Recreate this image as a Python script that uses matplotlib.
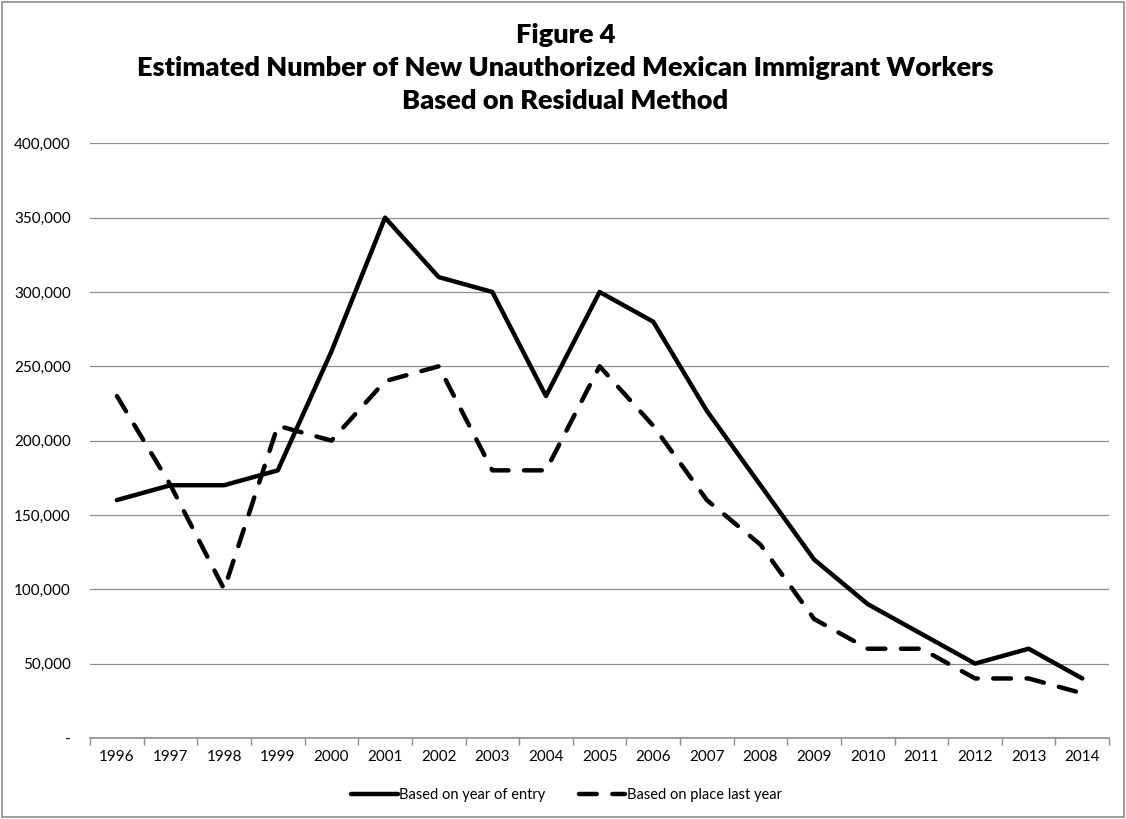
import matplotlib
matplotlib.use("Agg")
import matplotlib.pyplot as plt
from matplotlib.patches import Rectangle
from matplotlib.ticker import FuncFormatter, FixedLocator

plt.rcParams['font.family'] = ['Lato', 'DejaVu Sans']

years = ['1996', '1997', '1998', '1999', '2000', '2001', '2002', '2003', '2004', '2005',
         '2006', '2007', '2008', '2009', '2010', '2011', '2012', '2013', '2014']
year_of_entry = [160000, 170000, 170000, 180000, 260000, 350000, 310000, 300000, 230000, 300000,
                 280000, 220000, 170000, 120000, 90000, 70000, 50000, 60000, 40000]
place_last_year = [230000, 170000, 100000, 210000, 200000, 240000, 250000, 180000, 180000, 250000,
                   210000, 160000, 130000, 80000, 60000, 60000, 40000, 40000, 30000]

fig = plt.figure(figsize=(11.26, 8.19), dpi=100)
ax = fig.add_axes([0.080, 0.099, 0.905, 0.726])

x = range(len(years))
ax.plot(x, year_of_entry, color='black', lw=3.2, solid_capstyle='round',
        solid_joinstyle='round', label='Based on year of entry')
ax.plot(x, place_last_year, color='black', lw=3.2, dashes=(4, 3.5),
        dash_capstyle='round', label='Based on place last year')

ax.set_xlim(-0.5, len(years) - 0.5)
ax.set_ylim(0, 400000)
ax.set_yticks(range(0, 400001, 50000))
ax.yaxis.set_major_formatter(FuncFormatter(lambda v, p: '-' if v == 0 else f'{int(v):,}'))
ax.set_xticks(list(x))
ax.set_xticklabels(years)
ax.xaxis.set_minor_locator(FixedLocator([i - 0.5 for i in range(len(years) + 1)]))

ax.grid(axis='y', color='#8c8c8c', lw=0.9)
ax.set_axisbelow(True)
for s in ['top', 'right', 'left']:
    ax.spines[s].set_visible(False)
ax.spines['bottom'].set_color('#8c8c8c')
ax.spines['bottom'].set_linewidth(1.2)
ax.tick_params(axis='x', which='major', length=0, pad=9, labelsize=11)
ax.tick_params(axis='x', which='minor', length=5, color='#8c8c8c', width=1)
ax.tick_params(axis='y', length=0, pad=14, labelsize=11)

title_kw = dict(ha='center', va='center', fontsize=19.5, fontweight='heavy')
fig.text(0.502, 0.957, 'Figure 4', **title_kw)
fig.text(0.502, 0.917, 'Estimated Number of New Unauthorized Mexican Immigrant Workers', **title_kw)
fig.text(0.502, 0.877, 'Based on Residual Method', **title_kw)

# legend sits centred on the figure rather than the plot area
ax.legend(loc='center', bbox_to_anchor=(0.503, 0.029), bbox_transform=fig.transFigure,
          ncol=2, frameon=False, fontsize=10.5, handlelength=3.2,
          handletextpad=0.1, columnspacing=2.3)

fig.patches.append(Rectangle((0.002, 0.002), 0.996, 0.995, transform=fig.transFigure,
                             fill=False, edgecolor='#8c8c8c', lw=1.2))

fig.savefig('out.png', dpi=100)
